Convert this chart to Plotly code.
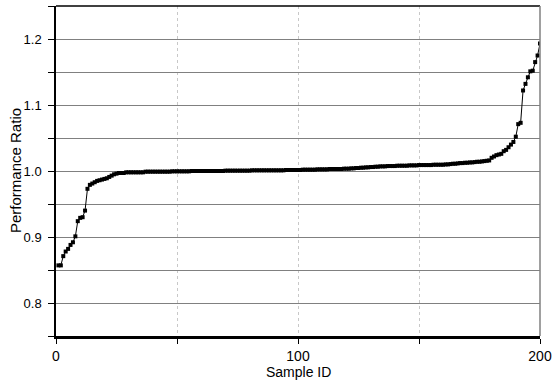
import plotly.graph_objects as go

sample_id = list(range(1, 201))
performance_ratio = [
    0.857, 0.857, 0.871, 0.878, 0.882, 0.888, 0.892, 0.901, 0.924, 0.929,
    0.930, 0.940, 0.973, 0.979, 0.981, 0.983, 0.985, 0.986, 0.987, 0.988,
    0.989, 0.991, 0.993, 0.995, 0.996, 0.997, 0.997, 0.997, 0.998, 0.998,
    0.998, 0.998, 0.998, 0.998, 0.998, 0.998, 0.999, 0.999, 0.999, 0.999,
    0.999, 0.999, 0.999, 0.999, 0.999, 0.999, 0.999, 0.9995, 0.9995, 0.9995,
    0.9995, 0.9995, 0.9995, 0.9995, 0.9995, 1.000, 1.000, 1.000, 1.000, 1.000,
    1.000, 1.000, 1.000, 1.000, 1.000, 1.000, 1.000, 1.000, 1.000, 1.0005,
    1.0005, 1.0005, 1.0005, 1.0005, 1.0005, 1.0005, 1.0005, 1.0005, 1.0005, 1.0005,
    1.001, 1.001, 1.001, 1.001, 1.001, 1.001, 1.001, 1.001, 1.001, 1.001,
    1.001, 1.001, 1.001, 1.001, 1.0015, 1.0015, 1.0015, 1.0015, 1.0015, 1.0015,
    1.0015, 1.002, 1.002, 1.002, 1.002, 1.002, 1.002, 1.0025, 1.0025, 1.0025,
    1.0025, 1.0025, 1.003, 1.003, 1.003, 1.003, 1.003, 1.003, 1.0035, 1.0035,
    1.0035, 1.004, 1.004, 1.0045, 1.0045, 1.005, 1.005, 1.0055, 1.0055, 1.006,
    1.006, 1.0065, 1.0065, 1.007, 1.007, 1.007, 1.0075, 1.0075, 1.0075, 1.0075,
    1.008, 1.008, 1.008, 1.008, 1.008, 1.0085, 1.0085, 1.0085, 1.0085, 1.009,
    1.009, 1.009, 1.009, 1.009, 1.009, 1.0095, 1.0095, 1.0095, 1.0095, 1.0095,
    1.010, 1.010, 1.0105, 1.011, 1.011, 1.0115, 1.012, 1.012, 1.0125, 1.0125,
    1.013, 1.013, 1.0135, 1.014, 1.014, 1.0145, 1.015, 1.0155, 1.016, 1.020,
    1.022, 1.024, 1.025, 1.026, 1.030, 1.032, 1.036, 1.040, 1.044, 1.052,
    1.071, 1.073, 1.122, 1.132, 1.142, 1.151, 1.152, 1.165, 1.175, 1.193,
]

x_tick_vals = [0, 50, 100, 150, 200]
x_tick_text = ["0", "", "100", "", "200"]
y_tick_vals = [0.75, 0.8, 0.85, 0.9, 0.95, 1.0, 1.05, 1.1, 1.15, 1.2, 1.25]
y_tick_text = ["", "0.8", "", "0.9", "", "1.0", "", "1.1", "", "1.2", ""]
x_title = "Sample ID"
y_title = "Performance Ratio"

FONT = "Liberation Sans, Arial, sans-serif"

fig = go.Figure()
fig.add_trace(go.Scatter(
    x=sample_id, y=performance_ratio, mode="lines+markers",
    line=dict(color="black", width=1),
    marker=dict(symbol="square", size=4, color="black"),
    showlegend=False,
))

fig.update_layout(
    width=552, height=381,
    margin=dict(l=56, r=12, t=6, b=45, autoexpand=False),
    paper_bgcolor="white", plot_bgcolor="white",
    font=dict(family=FONT, size=13, color="black"),
    xaxis=dict(
        range=[0, 200], tickmode="array", tickvals=x_tick_vals, ticktext=x_tick_text,
        showgrid=True, gridcolor="#c8c8c8", griddash="dot", gridwidth=1,
        showline=True, linecolor="black", linewidth=2.5,
        ticks="outside", ticklen=5, tickcolor="black", tickwidth=1,
        zeroline=False, automargin=False,
        tickfont=dict(size=14), ticklabelstandoff=0,
    ),
    yaxis=dict(
        range=[0.75, 1.25], tickmode="array", tickvals=y_tick_vals, ticktext=y_tick_text,
        showgrid=True, gridcolor="#808080", gridwidth=1,
        showline=True, linecolor="black", linewidth=1.5,
        ticks="outside", ticklen=6, tickcolor="black", tickwidth=1,
        zeroline=False, automargin=False,
        tickfont=dict(size=13), ticklabelstandoff=4,
    ),
    annotations=[
        dict(text=x_title, xref="paper", yref="paper", x=0.5, y=0,
             xanchor="center", yanchor="middle", yshift=-36, showarrow=False,
             font=dict(size=14)),
        dict(text=y_title, xref="paper", yref="paper", x=0, y=0.5,
             xanchor="center", yanchor="middle", xshift=-41, textangle=-90,
             showarrow=False, font=dict(size=15)),
    ],
    shapes=[
        dict(type="line", xref="paper", yref="paper", x0=0, x1=1, y0=1, y1=1,
             line=dict(color="black", width=1.5)),
        dict(type="line", xref="paper", yref="paper", x0=1, x1=1, y0=0, y1=1,
             line=dict(color="#808080", width=1.5)),
    ],
)

fig.write_html("out.html", config={"displayModeBar": False},
               post_script="document.body.style.margin='0';")
